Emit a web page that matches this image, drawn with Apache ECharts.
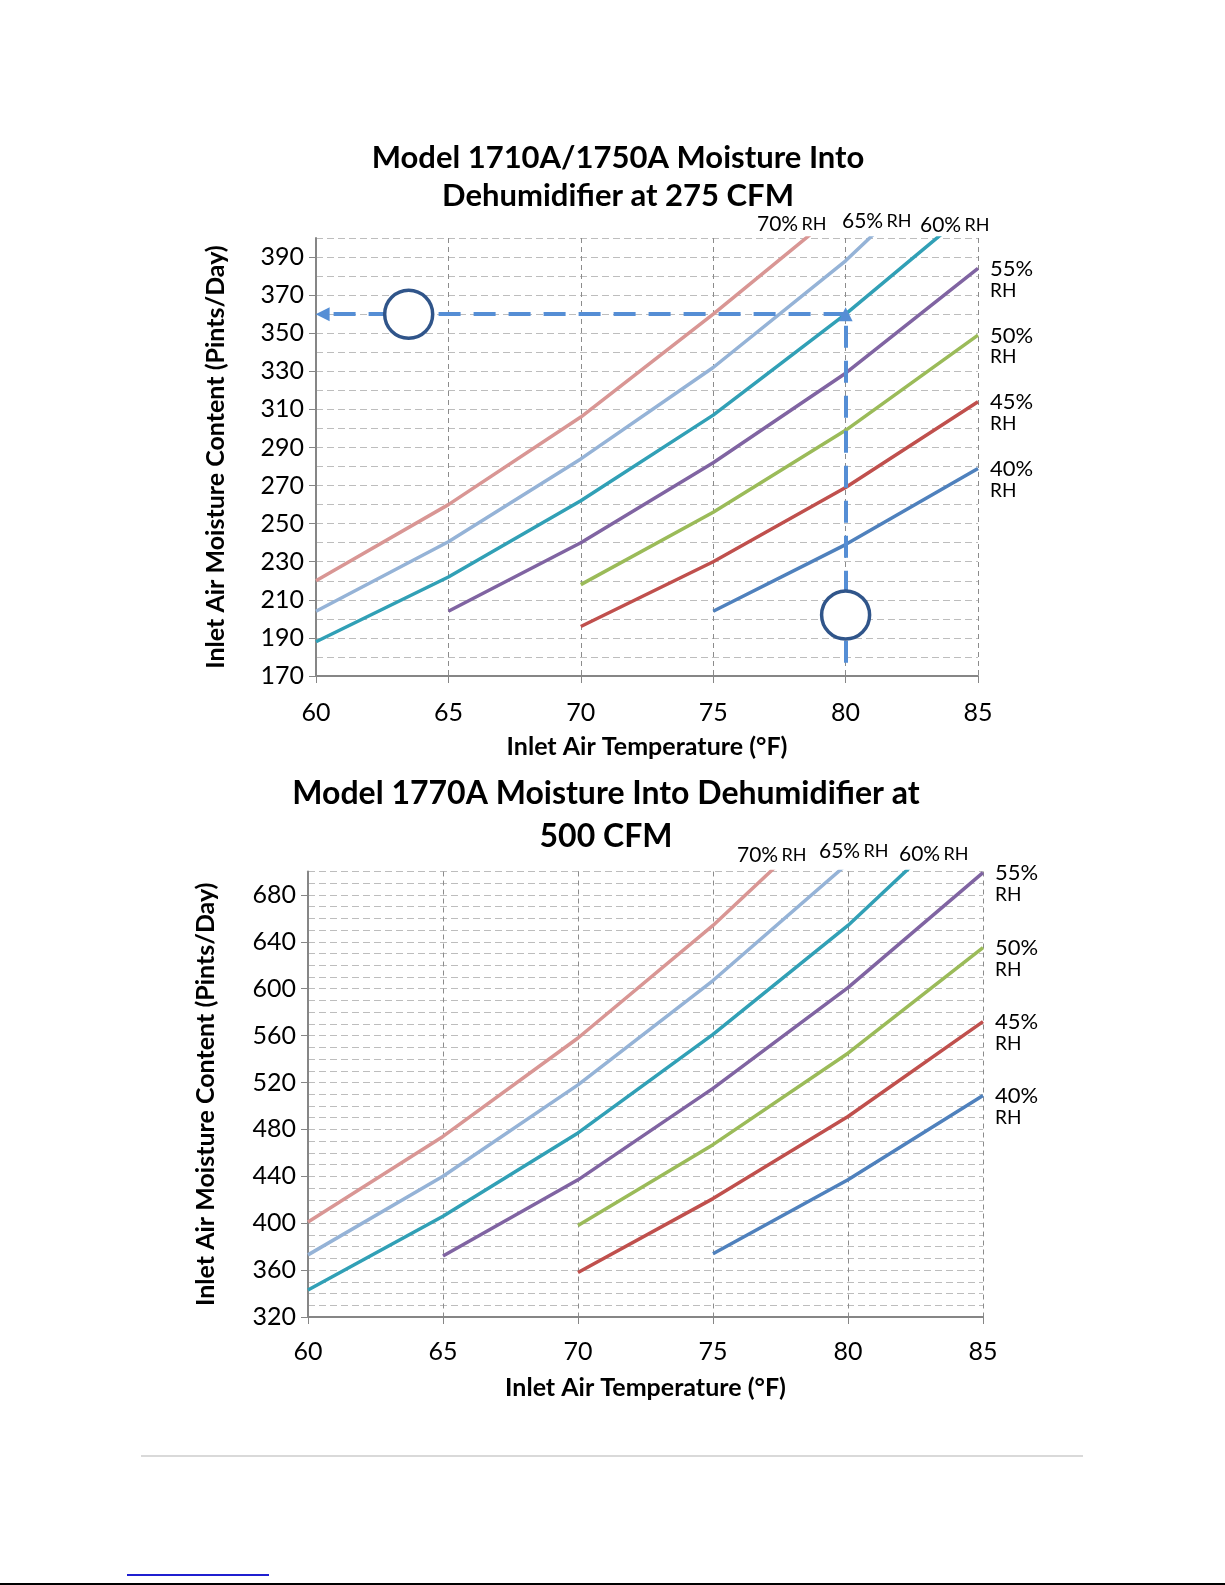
<!DOCTYPE html>
<html>
<head>
<meta charset="utf-8">
<title>Moisture Into Dehumidifier</title>
<script src="https://cdn.jsdelivr.net/npm/echarts@6/dist/echarts.min.js"></script>
<style>
html, body { margin: 0; padding: 0; background: #fff; }
#chart { width: 1225px; height: 1585px; }
</style>
</head>
<body>
<div id="chart"></div>
<script>
var temps = [60, 65, 70, 75, 80, 85];
var rhNames = ['70% RH', '65% RH', '60% RH', '55% RH', '50% RH', '45% RH', '40% RH'];
var rhColors = ['#d99694', '#95b3d7', '#31a0b6', '#8064a2', '#9bbb59', '#c0504d', '#4f81bd'];

// Model 1710A/1750A at 275 CFM, pints/day (null = no reading)
var cfm275_rh70 = [220, 260, 306, 360, 417, null];
var cfm275_rh65 = [204, 240.5, 284, 332, 388, 454];
var cfm275_rh60 = [188, 222, 262, 307, 360, 418];
var cfm275_rh55 = [null, 204, 240, 282, 329, 384];
var cfm275_rh50 = [null, null, 218, 256, 299, 349];
var cfm275_rh45 = [null, null, 196, 230, 269, 314];
var cfm275_rh40 = [null, null, null, 204, 239, 279];

// Model 1770A at 500 CFM
var cfm500_rh70 = [401, 474, 558, 654, 762, null];
var cfm500_rh65 = [373, 440, 518, 607, 707, null];
var cfm500_rh60 = [343, 406, 477, 561, 654, 762];
var cfm500_rh55 = [null, 372, 437, 515, 601, 699];
var cfm500_rh50 = [null, null, 398, 467, 545, 635];
var cfm500_rh45 = [null, null, 358, 421, 491, 572];
var cfm500_rh40 = [null, null, null, 374, 437, 509];

var yTicks275 = [170, 190, 210, 230, 250, 270, 290, 310, 330, 350, 370, 390];
var yTicks500 = [320, 360, 400, 440, 480, 520, 560, 600, 640, 680];

// worked example on the upper chart: 80°F at 60% RH -> 360 pints/day
var exampleTemp = 80;
var exampleValue = 360;
var exampleFrom = 177;
var exampleCircles = [[63.5, 360], [80, 202]];

var FONT = 'Lato';
var chart = echarts.init(document.getElementById('chart'));

function curves(rows, idx) {
    return rows.map(function (vals, i) {
        var data = [];
        for (var j = 0; j < temps.length; j++) {
            if (vals[j] != null) data.push([temps[j], vals[j]]);
        }
        var parts = rhNames[i].split(' ');
        return {
            name: rhNames[i],
            type: 'line',
            xAxisIndex: idx,
            yAxisIndex: idx * 2,
            data: data,
            showSymbol: false,
            silent: true,
            lineStyle: { color: rhColors[i], width: 3.5 },
            itemStyle: { color: rhColors[i] },
            endLabel: {
                show: i >= 3,
                distance: 12,
                offset: [0, 11],
                align: 'left',
                formatter: '{p|' + parts[0] + '}\n{r|' + parts[1] + '}',
                rich: {
                    p: { fontSize: 22, lineHeight: 22, fontFamily: FONT, color: '#000' },
                    r: { fontSize: 19, lineHeight: 21, fontFamily: FONT, color: '#000' }
                }
            }
        };
    });
}

function xAxisOf(idx, margin) {
    return {
        type: 'value', gridIndex: idx, min: 60, max: 85, interval: 5,
        name: 'Inlet Air Temperature (°F)', nameLocation: 'middle', nameGap: 58,
        nameTextStyle: { fontSize: 25, fontWeight: 'bold', fontFamily: FONT, color: '#000' },
        axisLine: { show: true, onZero: false, lineStyle: { color: '#868686', width: 2 } },
        axisTick: { show: true, length: 7, lineStyle: { color: '#868686' } },
        axisLabel: { fontSize: 25, fontFamily: FONT, color: '#000', margin: margin },
        splitLine: { show: true, lineStyle: { color: '#8c8c8c', width: 1, type: [5, 4] } }
    };
}

// main axis: labels and ticks at the printed values only
function yAxisOf(idx, min, max, ticks, gap) {
    return {
        type: 'value', gridIndex: idx, position: 'left', min: min, max: max, interval: 10,
        name: 'Inlet Air Moisture Content (Pints/Day)', nameLocation: 'middle', nameGap: gap,
        nameTextStyle: { fontSize: 25, fontWeight: 'bold', fontFamily: FONT, color: '#000' },
        axisLine: { show: true, lineStyle: { color: '#868686', width: 2 } },
        axisTick: { show: true, length: 7, customValues: ticks, lineStyle: { color: '#868686' } },
        axisLabel: {
            fontSize: 25, fontFamily: FONT, color: '#000', margin: 12,
            customValues: ticks,
            formatter: function (v) { return ticks.indexOf(v) >= 0 ? String(v) : ''; }
        },
        splitLine: { show: false },
        z: 3
    };
}

// twin axis: dashed grid every 10 units
function yGridOf(idx, min, max) {
    return {
        type: 'value', gridIndex: idx, position: 'left', offset: 0, min: min, max: max, interval: 10,
        axisLine: { show: false }, axisTick: { show: false }, axisLabel: { show: false },
        splitLine: { show: true, lineStyle: { color: '#bdbdbd', width: 1, type: [7, 4] } }
    };
}

function topLabel(x, y, txt) {
    var parts = txt.split(' ');
    return {
        type: 'text', x: x, y: y, silent: true,
        style: {
            text: '{p|' + parts[0] + '} {r|' + parts[1] + '}',
            verticalAlign: 'middle',
            rich: {
                p: { fontSize: 21, fontFamily: FONT, fill: '#000', color: '#000' },
                r: { fontSize: 18, fontFamily: FONT, fill: '#000', color: '#000' }
            }
        }
    };
}

var series = []
    .concat(curves([cfm275_rh70, cfm275_rh65, cfm275_rh60, cfm275_rh55, cfm275_rh50, cfm275_rh45, cfm275_rh40], 0))
    .concat(curves([cfm500_rh70, cfm500_rh65, cfm500_rh60, cfm500_rh55, cfm500_rh50, cfm500_rh45, cfm500_rh40], 1));

series.push({
    type: 'line', xAxisIndex: 0, yAxisIndex: 0, data: [], z: 3, silent: true,
    markLine: {
        silent: true,
        symbol: ['none', 'triangle'],
        symbolSize: 14,
        label: { show: false },
        lineStyle: { color: '#558ed5', width: 4, type: [22, 13] },
        data: [
            [{ coord: [exampleTemp, exampleFrom] }, { coord: [exampleTemp, exampleValue] }],
            [{ coord: [exampleTemp, exampleValue] }, { coord: [60.25, exampleValue] }]
        ]
    }
});
series.push({
    type: 'scatter', xAxisIndex: 0, yAxisIndex: 0, z: 6, silent: true,
    symbol: 'circle', symbolSize: 48,
    itemStyle: { color: '#fff', borderColor: '#30558a', borderWidth: 3.5, opacity: 1 },
    data: exampleCircles
});

var option = {
    animation: false,
    backgroundColor: '#fff',
    title: [
        {
            text: 'Model 1710A/1750A Moisture Into\nDehumidifier at 275 CFM',
            left: 618, top: 139, textAlign: 'center', padding: 0,
            textStyle: { fontSize: 31, fontWeight: 'bold', lineHeight: 38, fontFamily: FONT, color: '#000' }
        },
        {
            text: 'Model 1770A Moisture Into Dehumidifier at\n500 CFM',
            left: 606, top: 772, textAlign: 'center', padding: 0,
            textStyle: { fontSize: 32, fontWeight: 'bold', lineHeight: 43, fontFamily: FONT, color: '#000' }
        }
    ],
    grid: [
        { left: 316, top: 238, width: 662, height: 438, containLabel: false },
        { left: 308, top: 871.5, width: 675, height: 445.5, containLabel: false }
    ],
    xAxis: [xAxisOf(0, 24), xAxisOf(1, 22)],
    yAxis: [
        yAxisOf(0, 170, 400, yTicks275, 88), yGridOf(0, 170, 400),
        yAxisOf(1, 320, 700, yTicks500, 90), yGridOf(1, 320, 700)
    ],
    series: series,
    graphic: [
        topLabel(757, 224, rhNames[0]),
        topLabel(842, 221, rhNames[1]),
        topLabel(920, 225, rhNames[2]),
        topLabel(737, 855, rhNames[0]),
        topLabel(819, 851, rhNames[1]),
        topLabel(899, 854, rhNames[2]),
        { type: 'line', silent: true, shape: { x1: 141, y1: 1456, x2: 1083, y2: 1456 }, style: { stroke: '#d9d9d9', lineWidth: 2 } },
        { type: 'line', silent: true, shape: { x1: 127, y1: 1575, x2: 269, y2: 1575 }, style: { stroke: '#1f1fd0', lineWidth: 2 } },
        { type: 'line', silent: true, shape: { x1: 0, y1: 1584, x2: 1225, y2: 1584 }, style: { stroke: '#000', lineWidth: 2 } }
    ]
};

chart.setOption(option);
</script>
</body>
</html>
